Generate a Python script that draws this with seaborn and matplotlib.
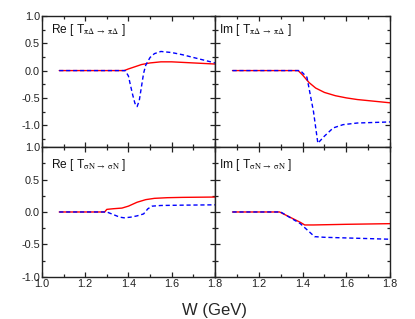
import numpy as np
import pandas as pd
import seaborn as sns
import matplotlib
matplotlib.use("Agg")
import matplotlib.pyplot as plt
from matplotlib.ticker import MultipleLocator

# ── data ────────────────────────────────────────────────
# Re [T(piDelta -> piDelta)]
W_a_red  = [1.08, 1.38, 1.40, 1.43, 1.46, 1.50, 1.55, 1.60, 1.65, 1.70, 1.75, 1.80]
re_pd_red = [0.0, 0.0, 0.03, 0.07, 0.11, 0.14, 0.16, 0.16, 0.15, 0.14, 0.13, 0.12]
W_a_blue = [1.08, 1.385, 1.40, 1.41, 1.42, 1.43, 1.44, 1.45, 1.46, 1.47, 1.48, 1.50,
            1.52, 1.55, 1.60, 1.65, 1.70, 1.75, 1.80]
re_pd_blue = [0.0, 0.0, -0.10, -0.28, -0.45, -0.60, -0.66, -0.55, -0.30, -0.05, 0.10, 0.24,
              0.31, 0.35, 0.33, 0.29, 0.24, 0.19, 0.14]

# Im [T(piDelta -> piDelta)]
W_b_red  = [1.08, 1.38, 1.40, 1.43, 1.46, 1.50, 1.55, 1.60, 1.65, 1.70, 1.75, 1.80]
im_pd_red = [0.0, 0.0, -0.08, -0.22, -0.32, -0.40, -0.46, -0.50, -0.53, -0.55, -0.57, -0.59]
W_b_blue = [1.08, 1.39, 1.42, 1.45, 1.47, 1.50, 1.54, 1.585, 1.65, 1.80]
im_pd_blue = [0.0, 0.0, -0.12, -0.75, -1.33, -1.20, -1.05, -0.99, -0.96, -0.94]

# Re [T(sigmaN -> sigmaN)]
W_c_red  = [1.08, 1.29, 1.30, 1.33, 1.37, 1.40, 1.44, 1.48, 1.52, 1.58, 1.65, 1.80]
re_sn_red = [0.0, 0.0, 0.04, 0.05, 0.06, 0.09, 0.15, 0.19, 0.21, 0.22, 0.225, 0.23]
W_c_blue = [1.08, 1.30, 1.33, 1.36, 1.38, 1.41, 1.44, 1.47, 1.49, 1.51, 1.55, 1.65, 1.80]
re_sn_blue = [0.0, 0.0, -0.04, -0.08, -0.09, -0.08, -0.06, -0.03, 0.05, 0.09, 0.10, 0.105, 0.11]

# Im [T(sigmaN -> sigmaN)]
W_d_red  = [1.08, 1.295, 1.39, 1.41, 1.45, 1.60, 1.80]
im_sn_red = [0.0, 0.0, -0.16, -0.20, -0.20, -0.19, -0.18]
W_d_blue = [1.08, 1.30, 1.39, 1.455, 1.50, 1.60, 1.70, 1.80]
im_sn_blue = [0.0, 0.0, -0.18, -0.38, -0.39, -0.40, -0.41, -0.42]

labels = [r"Re [ T$_{\mathrm{\pi\Delta \;\rightarrow\; \pi\Delta}}$ ]",
          r"Im [ T$_{\mathrm{\pi\Delta \;\rightarrow\; \pi\Delta}}$ ]",
          r"Re [ T$_{\mathrm{\sigma N \;\rightarrow\; \sigma N}}$ ]",
          r"Im [ T$_{\mathrm{\sigma N \;\rightarrow\; \sigma N}}$ ]"]

# ── style ────────────────────────────────────────────────
sns.set_style("ticks")
plt.rcParams["font.family"] = ["Liberation Sans", "DejaVu Sans"]
plt.rcParams["mathtext.fontset"] = "stix"
plt.rcParams["xtick.direction"] = "in"
plt.rcParams["ytick.direction"] = "in"

fig = plt.figure(figsize=(4.15, 3.19), dpi=100)
L, M, R = 0.101, 0.518, 0.940
B, C, T = 0.132, 0.539, 0.950
axes = [fig.add_axes([L, C, M - L, T - C]), fig.add_axes([M, C, R - M, T - C]),
        fig.add_axes([L, B, M - L, C - B]), fig.add_axes([M, B, R - M, C - B])]

panels = [(W_a_red, re_pd_red, W_a_blue, re_pd_blue),
          (W_b_red, im_pd_red, W_b_blue, im_pd_blue),
          (W_c_red, re_sn_red, W_c_blue, re_sn_blue),
          (W_d_red, im_sn_red, W_d_blue, im_sn_blue)]

for i, (ax, (wr, yr, wb, yb)) in enumerate(zip(axes, panels)):
    sns.lineplot(x=wr, y=yr, ax=ax, color="#ff0000", linewidth=1.0)
    sns.lineplot(x=wb, y=yb, ax=ax, color="#0000ff", linewidth=1.0,
                 linestyle=(0, (3, 2)))
    ax.set_xlim(1.0, 1.8)
    ax.set_ylim(-1.4 if i < 2 else -1.0, 1.0)
    ax.xaxis.set_major_locator(MultipleLocator(0.2))
    ax.xaxis.set_minor_locator(MultipleLocator(0.1))
    ax.yaxis.set_major_locator(MultipleLocator(0.5))
    ax.yaxis.set_minor_locator(MultipleLocator(0.25))
    ax.tick_params(which="both", top=True, right=True, labelsize=7.8,
                   colors="#222222", width=0.9, pad=1.5)
    ax.tick_params(which="major", length=3.5)
    ax.tick_params(which="minor", length=2)
    for sp in ax.spines.values():
        sp.set_linewidth(1.0)
        sp.set_color("#222222")
    ax.set_xlabel("")
    ax.set_ylabel("")
    if i < 2:
        ax.tick_params(labelbottom=False)
    if i % 2 == 1:
        ax.tick_params(labelleft=False)
    ax.set_yticks([-1.0, -0.5, 0.0, 0.5, 1.0])
    ax.set_yticklabels(["-1.0", "-0.5", "0.0", "0.5", "1.0"])
    if i == 2:
        ax.set_xticks([1.0, 1.2, 1.4, 1.6, 1.8])
        ax.set_xticklabels(["1.0", "1.2", "1.4", "1.6", "1.8"])
    if i == 3:
        ax.set_xticks([1.0, 1.2, 1.4, 1.6, 1.8])
        ax.set_xticklabels(["", "1.2", "1.4", "1.6", "1.8"])
    ty = 0.89 if i < 2 else 0.86
    tx = 0.05 if i % 2 == 0 else 0.025
    ax.text(tx, ty, labels[i], transform=ax.transAxes, fontsize=8.6,
            ha="left", va="center", color="#111111")

fig.text(0.518, 0.013, "W (GeV)", ha="center", va="baseline", fontsize=12)

plt.savefig("out.png", dpi=100)
